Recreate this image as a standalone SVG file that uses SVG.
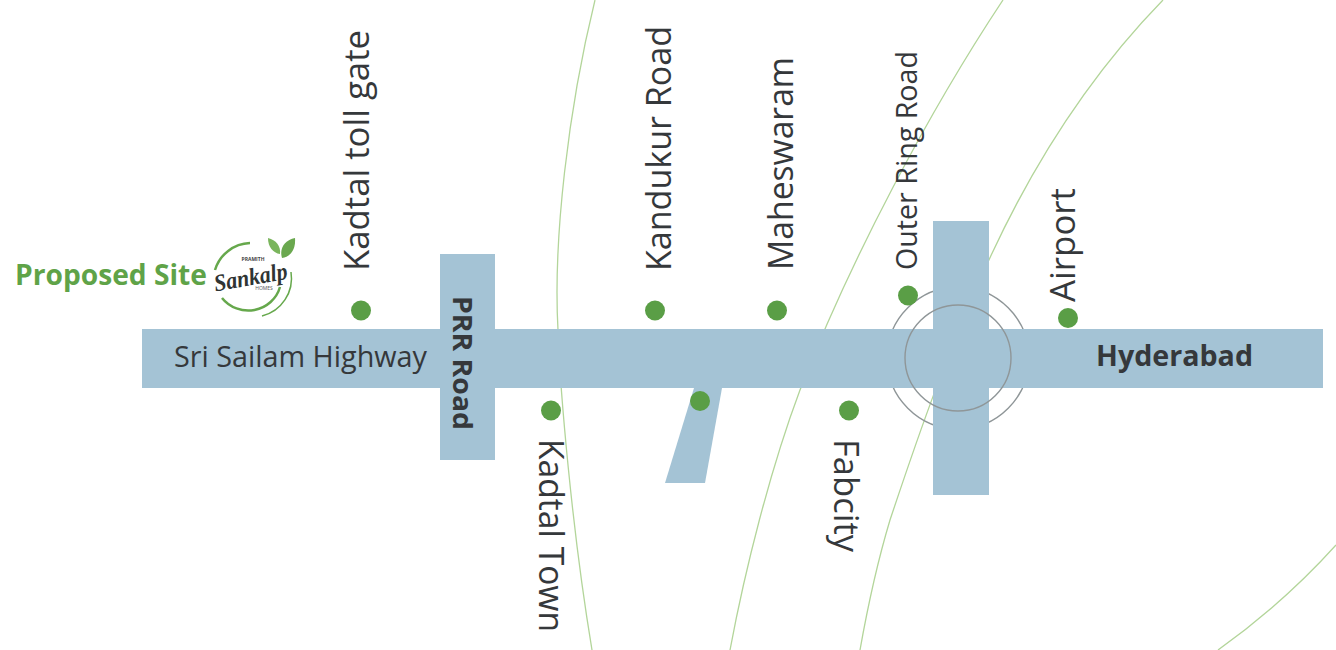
<svg xmlns="http://www.w3.org/2000/svg" width="1336" height="650" viewBox="0 0 1336 650">
<style>
.curve{fill:none;stroke:#b3d59a;stroke-width:1.3}
.road{fill:#a4c3d5}
.ring{fill:none;stroke:#8f9698;stroke-width:1.4}
.dot{fill:#5a9e46}
.lab{font-family:"Open Sans","Noto Sans",sans-serif;fill:#35383b;font-size:35px}
.bold{font-weight:700}
.green{fill:#5fa348}
.logo{fill:none;stroke:#66a84c}
</style>
<rect width="1336" height="650" fill="#ffffff"/>
<g id="connectors">
<path class="curve" d="M595,0C568,110 553,240 558,330C560,390 572,530 592,650"/>
<path class="curve" d="M1003,0C930,110 850,260 800,390C770,470 745,570 730,650"/>
<path class="curve" d="M1163,0C1085,80 1030,170 988,262C950,345 920,430 890,520C878,560 868,605 860,650"/>
<path class="curve" d="M1336,545C1300,585 1260,620 1218,650"/>
<circle class="ring" cx="958" cy="358" r="71"/>
</g>
<g id="road-highway"><rect class="road" x="142" y="329" width="1181" height="59"/></g>
<g id="road-prr"><rect class="road" x="440" y="254" width="55" height="206"/></g>
<g id="road-orr"><rect class="road" x="933" y="221" width="56" height="274"/></g>
<g id="road-branch"><polygon class="road" points="694,388 722,388 705,483 665,483"/></g>
<g id="ring-inner"><circle class="ring" cx="958" cy="358" r="53"/></g>
<g id="kadtal-toll"><circle class="dot" cx="361" cy="310.500" r="10"/><text class="lab" textLength="241" lengthAdjust="spacingAndGlyphs" transform="translate(369,271) rotate(-90)">Kadtal toll gate</text></g>
<g id="kandukur"><circle class="dot" cx="655" cy="310.500" r="10"/><text class="lab" textLength="245" lengthAdjust="spacingAndGlyphs" transform="translate(671,271) rotate(-90)">Kandukur Road</text></g>
<g id="maheswaram"><circle class="dot" cx="777" cy="310.500" r="10"/><text class="lab" textLength="213" lengthAdjust="spacingAndGlyphs" transform="translate(793,270) rotate(-90)">Maheswaram</text></g>
<g id="orr"><circle class="dot" cx="908" cy="295.500" r="10"/><text class="lab" style="font-size:29px" textLength="219" lengthAdjust="spacingAndGlyphs" transform="translate(917,270) rotate(-90)">Outer Ring Road</text></g>
<g id="airport"><circle class="dot" cx="1068" cy="318" r="10"/><text class="lab" textLength="114" lengthAdjust="spacingAndGlyphs" transform="translate(1075,302) rotate(-90)">Airport</text></g>
<g id="kadtal-town"><circle class="dot" cx="551" cy="410.500" r="10"/><text class="lab" textLength="193" lengthAdjust="spacingAndGlyphs" transform="translate(539,439) rotate(90)">Kadtal Town</text></g>
<g id="branch-dot"><circle class="dot" cx="700" cy="401" r="10"/></g>
<g id="fabcity"><circle class="dot" cx="849" cy="410.500" r="10"/><text class="lab" textLength="113" lengthAdjust="spacingAndGlyphs" transform="translate(834,439) rotate(90)">Fabcity</text></g>
<g id="highway-label"><text class="lab" style="font-size:29px" textLength="253" lengthAdjust="spacingAndGlyphs" x="174" y="367">Sri Sailam Highway</text></g>
<g id="prr-label"><text class="lab bold" style="font-size:27px" textLength="134" lengthAdjust="spacingAndGlyphs" transform="translate(453,296) rotate(90)">PRR Road</text></g>
<g id="hyderabad"><text class="lab bold" style="font-size:28px" textLength="157" lengthAdjust="spacingAndGlyphs" x="1096" y="366">Hyderabad</text></g>
<g id="proposed-site">
<text class="lab bold green" style="font-size:28px" textLength="192" lengthAdjust="spacingAndGlyphs" x="15" y="285">Proposed Site</text>
<path class="logo" stroke-width="2.5" d="M215,270A38,38 0 0 1 250,243"/>
<path class="logo" stroke-width="2.5" d="M280,287A33,32 0 0 1 222,298"/>
<path class="logo" stroke-width="1.5" d="M291,272A39,39 0 0 1 262,316"/>
<path d="M268,238C276,240 281,246 280,254C273,253 268,247 268,238Z" fill="#7ab55c"/>
<path d="M295,238C296,250 290,257 282,258C279,248 285,240 295,238Z" fill="#6aa84f"/>
<text x="253" y="261" text-anchor="middle" style="font-family:'Open Sans',sans-serif;font-size:5px;font-weight:700" fill="#444">PRAMITH</text>
<text x="252" y="285" textLength="74" lengthAdjust="spacingAndGlyphs" text-anchor="middle" transform="rotate(-10 252 285)" style="font-family:'Liberation Serif',serif;font-size:24px;font-style:italic;font-weight:700" fill="#2f3433">Sankalp</text>
<text x="264" y="290" text-anchor="middle" style="font-family:'Open Sans',sans-serif;font-size:5px" fill="#555">HOMES</text>
</g>
</svg>
